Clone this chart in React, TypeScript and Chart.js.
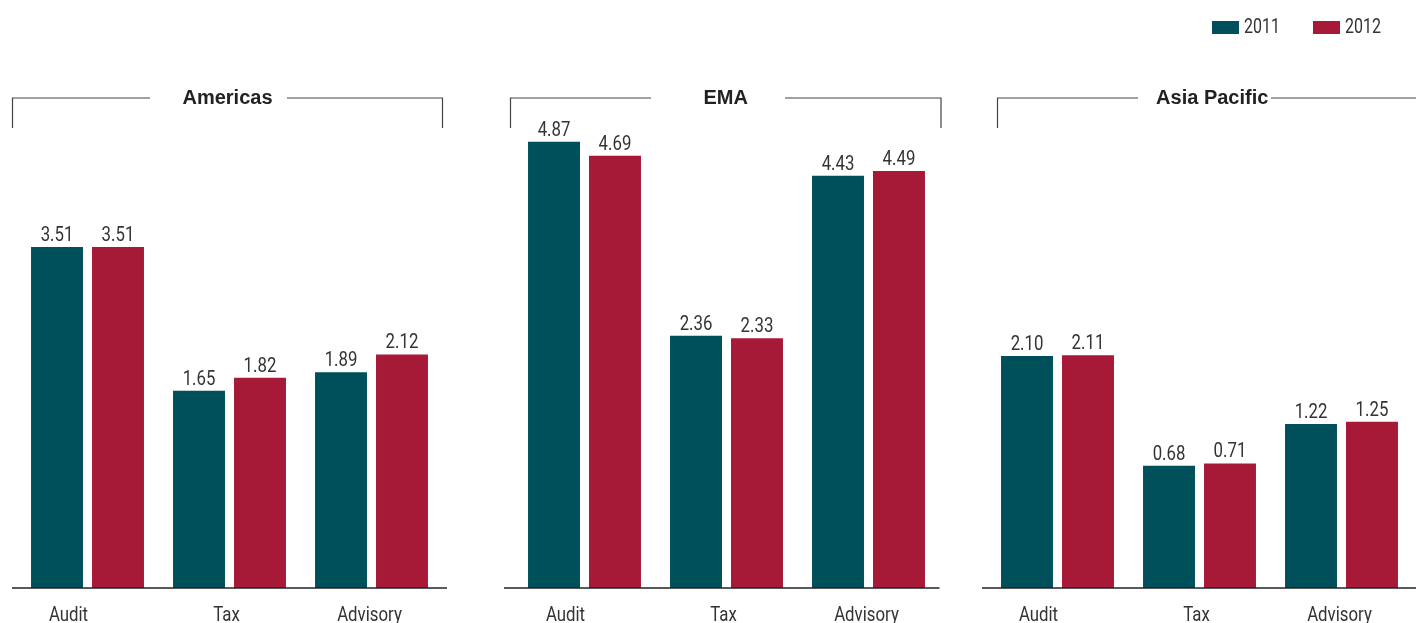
import React, { useEffect, useRef } from "react";
import { Chart, registerables } from "chart.js";

Chart.register(...registerables);

const categories = ["Audit", "Tax", "Advisory"];
const seriesLabels = ["2011", "2012"];
const regions = ["Americas", "EMA", "Asia Pacific"];
const americas2011 = [3.51, 1.65, 1.89];
const americas2012 = [3.51, 1.82, 2.12];
const ema2011 = [4.87, 2.36, 4.43];
const ema2012 = [4.69, 2.33, 4.49];
const asia2011 = [2.1, 0.68, 1.22];
const asia2012 = [2.11, 0.71, 1.25];

const W = 1416;
const H = 623;
const COLORS = ["#00505C", "#A71A37"];
const NARROW = "Roboto, 'Liberation Sans', sans-serif";
const BOLD = "'Liberation Sans', Arial, sans-serif";
const SX = 0.8;
const BASE_Y = 588;
const TOP_Y = 93;
const Y_MIN = -0.9;
const LABEL_SHIFT = [-19, -3, -2];

type Panel = {
  title: string;
  d2011: number[];
  d2012: number[];
  areaLeft: number;
  axis: [number, number];
  bracket: [number, number];
  gap: [number, number];
  legend: boolean;
};

const panels: Panel[] = [
  { title: regions[0], d2011: americas2011, d2012: americas2012, areaLeft: 16.5, axis: [12, 447], bracket: [12.5, 442.5], gap: [150, 287], legend: false },
  { title: regions[1], d2011: ema2011, d2012: ema2012, areaLeft: 513.5, axis: [504, 939.5], bracket: [510.5, 941], gap: [651, 785], legend: false },
  { title: regions[2], d2011: asia2011, d2012: asia2012, areaLeft: 986.5, axis: [982, 1416], bracket: [997.5, 1430], gap: [1138, 1271], legend: true },
];

function narrowText(ctx: CanvasRenderingContext2D, text: string, x: number, y: number, align: CanvasTextAlign) {
  ctx.save();
  ctx.translate(x, y);
  ctx.scale(SX, 1);
  ctx.textAlign = align;
  ctx.fillText(text, 0, 0);
  ctx.restore();
}

function PanelChart({ p }: { p: Panel }) {
  const ref = useRef<HTMLCanvasElement | null>(null);
  useEffect(() => {
    if (!ref.current) return;
    const decor = {
      id: "decor",
      afterDraw(chart: any) {
        const ctx = chart.ctx as CanvasRenderingContext2D;
        ctx.save();
        // baseline
        ctx.strokeStyle = "#222";
        ctx.lineWidth = 1.5;
        ctx.beginPath();
        ctx.moveTo(p.axis[0], BASE_Y);
        ctx.lineTo(p.axis[1], BASE_Y);
        ctx.stroke();
        // bracket
        ctx.strokeStyle = "#444";
        ctx.lineWidth = 1.2;
        ctx.beginPath();
        ctx.moveTo(p.bracket[0], 128);
        ctx.lineTo(p.bracket[0], 98);
        ctx.lineTo(p.gap[0], 98);
        ctx.moveTo(p.gap[1], 98);
        ctx.lineTo(p.bracket[1], 98);
        ctx.lineTo(p.bracket[1], 128);
        ctx.stroke();
        // title
        ctx.fillStyle = "#222";
        ctx.font = `bold 20px ${BOLD}`;
        ctx.textAlign = "center";
        ctx.textBaseline = "alphabetic";
        ctx.fillText(p.title, (p.bracket[0] + Math.min(p.bracket[1], 1427)) / 2, 104);
        // value labels
        ctx.font = `21px ${NARROW}`;
        ctx.fillStyle = "#333";
        chart.data.datasets.forEach((ds: any, di: number) => {
          const meta = chart.getDatasetMeta(di);
          meta.data.forEach((el: any, i: number) => {
            narrowText(ctx, Number(ds.data[i]).toFixed(2), el.x, el.y - 6, "center");
          });
        });
        // category labels
        const xs = chart.scales.x;
        categories.forEach((c, i) => {
          narrowText(ctx, c, xs.getPixelForValue(i) + LABEL_SHIFT[i], 621, "center");
        });
        // legend
        if (p.legend) {
          const items = [
            { x: 1212, label: seriesLabels[0], color: COLORS[0] },
            { x: 1313, label: seriesLabels[1], color: COLORS[1] },
          ];
          ctx.font = `20px ${NARROW}`;
          items.forEach((it) => {
            ctx.fillStyle = it.color;
            ctx.fillRect(it.x, 21, 27, 13);
            ctx.fillStyle = "#333";
            narrowText(ctx, it.label, it.x + 32, 33, "left");
          });
        }
        ctx.restore();
      },
    };
    const chart = new Chart(ref.current, {
      type: "bar",
      data: {
        labels: categories,
        datasets: [
          { label: seriesLabels[0], data: p.d2011, backgroundColor: COLORS[0], base: Y_MIN, categoryPercentage: 0.859, barPercentage: 0.852 },
          { label: seriesLabels[1], data: p.d2012, backgroundColor: COLORS[1], base: Y_MIN, categoryPercentage: 0.859, barPercentage: 0.852 },
        ],
      },
      options: {
        responsive: false,
        animation: false,
        devicePixelRatio: 1,
        events: [],
        layout: {
          padding: { left: p.areaLeft, right: W - (p.areaLeft + 426), top: TOP_Y, bottom: H - BASE_Y },
        },
        plugins: { legend: { display: false }, tooltip: { enabled: false } },
        scales: {
          x: { display: false, offset: true, grid: { display: false } },
          y: { display: false, min: Y_MIN, max: 5.5 },
        },
      },
      plugins: [decor],
    });
    return () => chart.destroy();
  }, [p]);
  return (
    <canvas
      ref={ref}
      width={W}
      height={H}
      style={{ position: "absolute", left: 0, top: 0, width: W, height: H }}
    />
  );
}

export default function App() {
  useEffect(() => {
    document.body.style.margin = "0";
  }, []);
  return (
    <div style={{ position: "fixed", left: 0, top: 0, width: W, height: H, background: "#fff", overflow: "hidden" }}>
      {panels.map((p) => (
        <PanelChart key={p.title} p={p} />
      ))}
    </div>
  );
}
